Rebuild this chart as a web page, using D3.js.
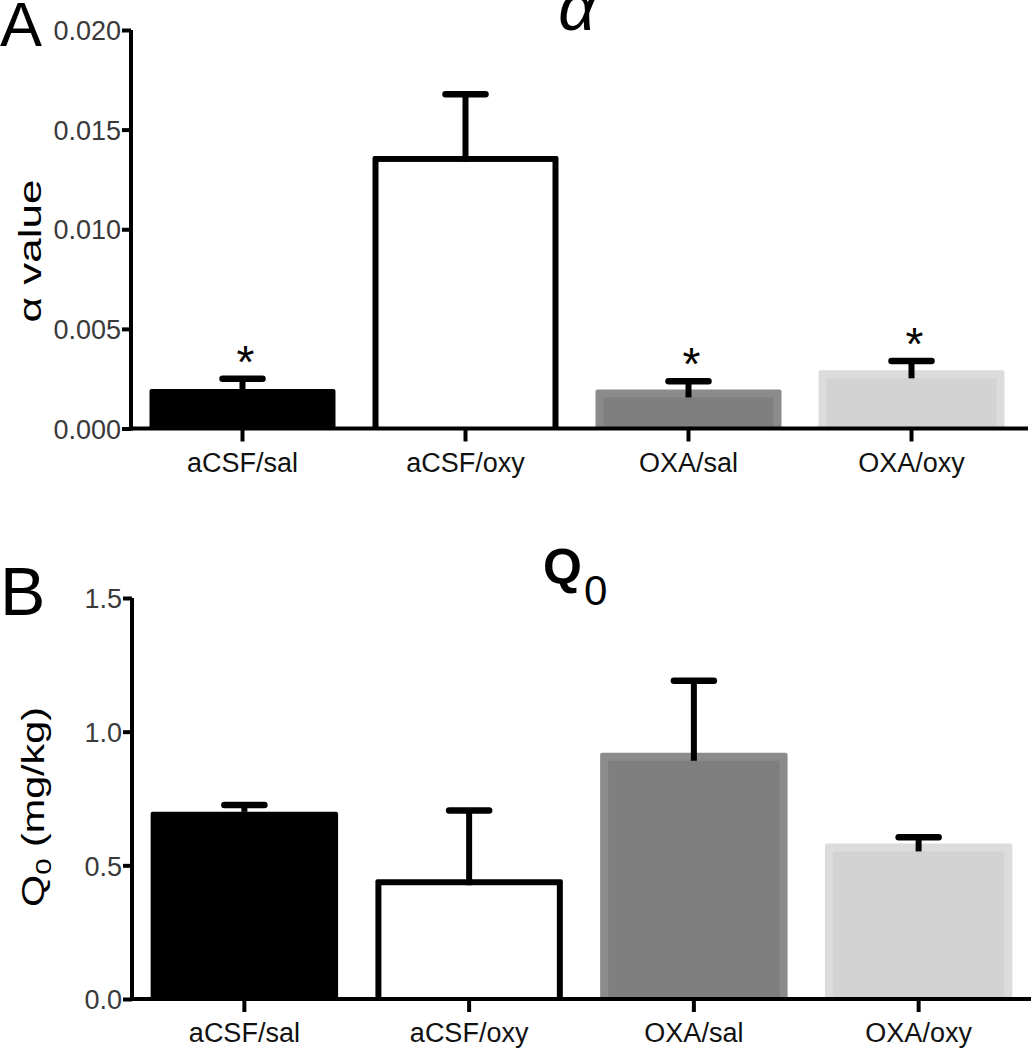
<!DOCTYPE html>
<html><head><meta charset="utf-8">
<script src="https://cdn.jsdelivr.net/npm/d3@7"></script>
<style>
html,body{margin:0;padding:0;background:#fff;}
svg{display:block;}
text{font-family:"Liberation Sans",Arial,sans-serif;}
</style></head>
<body>
<script>
// ---- data ----
const categories = ["aCSF/sal", "aCSF/oxy", "OXA/sal", "OXA/oxy"];
const alphaMeans = [0.00198, 0.01368, 0.00196, 0.00292];
const alphaSEM   = [0.00052, 0.00310, 0.00041, 0.00047];
const alphaStars = ["*", "", "*", "*"];
const alphaTicks = [0, 0.005, 0.010, 0.015, 0.020];
const q0Means = [0.700, 0.448, 0.921, 0.582];
const q0SEM   = [0.026, 0.257, 0.269, 0.023];
const q0Ticks = [0, 0.5, 1.0, 1.5];

// ---- styles ----
const outerCol = ["#000000", "#000000", "#8b8b8b", "#dcdcdc"];
const innerCol = ["#000000", "#ffffff", "#7f7f7f", "#d3d3d3"];
const borderW  = [0, 6, 8, 8];

const W = 1031, H = 1050;
const svg = d3.select("body").append("svg").attr("width", W).attr("height", H);

function panel(opt) {
  const x = d3.scaleBand().domain(categories).range(opt.xr).paddingInner(0.166).paddingOuter(0.083);
  const y = d3.scaleLinear().domain(opt.yd).range(opt.yr);
  const g = svg.append("g");
  const y0 = y(0);

  // bars
  categories.forEach((c, i) => {
    const v = opt.means[i];
    const bx = x(c), bw = x.bandwidth(), by = y(v), bh = y0 - by;
    g.append("rect").attr("x", bx).attr("y", by).attr("width", bw).attr("height", bh)
      .attr("fill", outerCol[i]).attr("rx", 2);
    if (borderW[i] > 0) {
      const b = borderW[i];
      g.append("rect").attr("x", bx + b).attr("y", by + b).attr("width", bw - 2 * b).attr("height", bh - b)
        .attr("fill", innerCol[i]);
    }
  });

  // error bars (upward)
  categories.forEach((c, i) => {
    const cx = x(c) + x.bandwidth() / 2;
    const top = y(opt.means[i] + opt.sem[i]);
    const base = y(opt.means[i]) + (borderW[i] > 0 ? borderW[i] : 0);
    g.append("line").attr("x1", cx).attr("x2", cx).attr("y1", top).attr("y2", base)
      .attr("stroke", "#000").attr("stroke-width", 6);
    g.append("line").attr("x1", cx - 20).attr("x2", cx + 20).attr("y1", top).attr("y2", top)
      .attr("stroke", "#000").attr("stroke-width", 6.5).attr("stroke-linecap", "round");
    if (opt.stars && opt.stars[i]) {
      g.append("text").attr("x", cx + 3).attr("y", top - 27 + 26).attr("text-anchor", "middle")
        .attr("font-size", 46).attr("fill", "#000").text(opt.stars[i]);
    }
  });

  // y axis
  const ya = g.append("g").attr("transform", `translate(${opt.xr[0]},0)`)
    .call(d3.axisLeft(y).tickValues(opt.ticks).tickFormat(d3.format(opt.fmt)).tickSize(9).tickSizeOuter(0));
  ya.select(".domain").attr("stroke-width", 4).attr("d", `M0,${y0 + 2}V${opt.yr[1]}`);
  ya.selectAll(".tick line").attr("stroke-width", 4);
  ya.selectAll(".tick text").attr("font-size", 27).attr("fill", "#3a3a3a").attr("x", -10).attr("dy", "0.36em")
    .attr("font-family", "Liberation Sans, Arial, sans-serif");

  // x axis
  const xa = g.append("g").attr("transform", `translate(0,${y0})`)
    .call(d3.axisBottom(x).tickSize(13).tickSizeOuter(0));
  xa.select(".domain").attr("stroke-width", 4).attr("d", `M${opt.xr[0] - 2},0H${opt.xEnd}`);
  xa.selectAll(".tick line").attr("stroke-width", 4);
  xa.selectAll(".tick text").attr("font-size", 27).attr("fill", "#111").attr("y", 0).attr("dy", opt.labDy)
    .attr("font-family", "Liberation Sans, Arial, sans-serif");
  return {x, y, g};
}

// Panel A
panel({xr: [131, 1023], xEnd: 1028, yd: [0, 0.02], yr: [428.5, 30], means: alphaMeans, sem: alphaSEM,
  stars: alphaStars, ticks: alphaTicks, fmt: ".3f", labDy: 43});
// Panel B
panel({xr: [132, 1031], xEnd: 1031, yd: [0, 1.5], yr: [999, 598], means: q0Means, sem: q0SEM,
  stars: null, ticks: q0Ticks, fmt: ".1f", labDy: 43});

// Panel letters
svg.append("text").attr("x", 0).attr("y", 46).attr("font-size", 63).text("A");
svg.append("text").attr("x", 0).attr("y", 615).attr("font-size", 68).text("B");

// Titles
svg.append("text").attr("x", 577).attr("y", 30).attr("text-anchor", "middle")
  .attr("font-family", "Liberation Serif, Times New Roman, serif").attr("font-style", "italic")
  .attr("font-size", 66).text("α");
const t2 = svg.append("text").attr("x", 543).attr("y", 584).attr("font-weight", "bold").attr("font-size", 50);
t2.append("tspan").text("Q");
t2.append("tspan").attr("font-weight", "normal").attr("font-size", 42).attr("dx", 2).attr("dy", 21).text("0");

// Y axis titles
svg.append("text").attr("transform", "translate(41,251) rotate(-90)").attr("text-anchor", "middle")
  .attr("font-size", 31).attr("textLength", 143).attr("lengthAdjust", "spacingAndGlyphs").text("α value");
const yl = svg.append("text").attr("transform", "translate(44,807) rotate(-90)").attr("text-anchor", "middle")
  .attr("font-size", 31).attr("textLength", 200).attr("lengthAdjust", "spacingAndGlyphs");
yl.append("tspan").text("Q");
yl.append("tspan").attr("font-size", 22).attr("dy", 7).text("0");
yl.append("tspan").attr("dy", -7).text(" (mg/kg)");
</script>
</body></html>
